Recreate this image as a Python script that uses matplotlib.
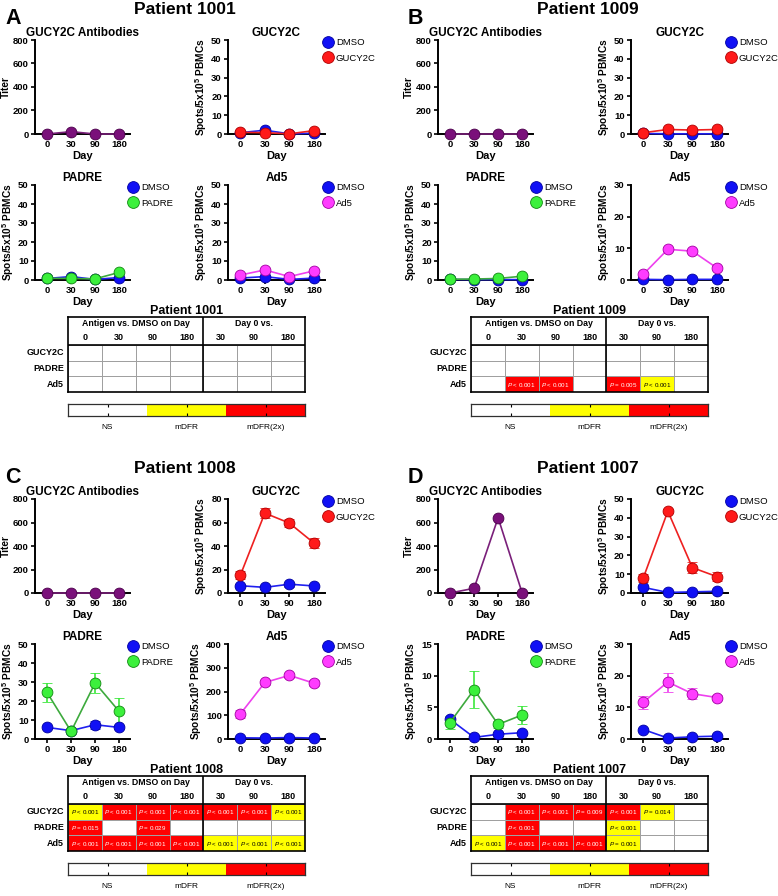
import numpy as np
import matplotlib.pyplot as plt
from matplotlib.lines import Line2D
from matplotlib.colors import ListedColormap

plt.rcParams['font.family'] = ['Liberation Sans', 'DejaVu Sans']
plt.rcParams['mathtext.fontset'] = 'custom'
plt.rcParams['mathtext.rm'] = 'Liberation Sans'
plt.rcParams['mathtext.it'] = 'Liberation Sans:italic'
plt.rcParams['mathtext.bf'] = 'Liberation Sans:bold'

# shared labels
days = ["0", "30", "90", "180"]
table_cols = ["0", "30", "90", "180", "30", "90", "180"]
table_rows = ["GUCY2C", "PADRE", "Ad5"]
levels = ["NS", "mDFR", "mDFR(2x)"]

# Patient 1001
p1001_titer = [0, 20, 0, 0]
p1001_gucy_dmso = [0.7, 2.0, 0.1, 0.4]
p1001_gucy_dmso_err = [0.3, 0.4, 0.1, 0.3]
p1001_gucy = [0.9, 0.7, 0.1, 1.8]
p1001_gucy_err = [0.3, 0.3, 0.1, 0.5]
p1001_padre_dmso = [0.8, 1.8, 0.3, 1.3]
p1001_padre_dmso_err = [0.3, 0.4, 0.2, 0.3]
p1001_padre = [0.9, 0.8, 0.6, 4.0]
p1001_padre_err = [0.3, 0.3, 0.3, 0.6]
p1001_ad5_dmso = [1.0, 1.8, 0.3, 1.0]
p1001_ad5_dmso_err = [0.3, 0.4, 0.2, 0.3]
p1001_ad5 = [2.6, 5.3, 1.8, 4.8]
p1001_ad5_err = [0.5, 0.6, 0.4, 0.6]
p1001_ymax = [800, 50, 50, 50]
p1001_ystep = [200, 10, 10, 10]
p1001_sig = [[0, 0, 0, 0, 0, 0, 0],
             [0, 0, 0, 0, 0, 0, 0],
             [0, 0, 0, 0, 0, 0, 0]]
p1001_p = [["", "", "", "", "", "", ""],
           ["", "", "", "", "", "", ""],
           ["", "", "", "", "", "", ""]]

# Patient 1009
p1009_titer = [0, 0, 0, 0]
p1009_gucy_dmso = [0.3, 0.1, 0.1, 0.1]
p1009_gucy_dmso_err = [0.2, 0.1, 0.1, 0.1]
p1009_gucy = [0.7, 2.4, 2.1, 2.4]
p1009_gucy_err = [0.3, 0.4, 0.4, 0.4]
p1009_padre_dmso = [0.3, 0.2, 0.2, 0.2]
p1009_padre_dmso_err = [0.2, 0.1, 0.1, 0.1]
p1009_padre = [0.4, 0.5, 0.8, 2.0]
p1009_padre_err = [0.2, 0.2, 0.3, 0.4]
p1009_ad5_dmso = [0.2, 0.1, 0.2, 0.2]
p1009_ad5_dmso_err = [0.1, 0.1, 0.1, 0.1]
p1009_ad5 = [1.8, 9.7, 9.1, 3.8]
p1009_ad5_err = [0.8, 0.6, 0.7, 0.7]
p1009_ymax = [800, 50, 50, 30]
p1009_ystep = [200, 10, 10, 10]
p1009_sig = [[0, 0, 0, 0, 0, 0, 0],
             [0, 0, 0, 0, 0, 0, 0],
             [0, 2, 2, 0, 2, 1, 0]]
p1009_p = [["", "", "", "", "", "", ""],
           ["", "", "", "", "", "", ""],
           ["", "< 0.001", "< 0.001", "", "= 0.005", "< 0.001", ""]]

# Patient 1008
p1008_titer = [0, 0, 0, 0]
p1008_gucy_dmso = [6.2, 4.8, 7.5, 6.0]
p1008_gucy_dmso_err = [1.2, 1.0, 2.0, 1.2]
p1008_gucy = [15.0, 68.0, 59.5, 42.5]
p1008_gucy_err = [3.5, 4.0, 3.5, 4.0]
p1008_padre_dmso = [6.1, 4.4, 7.5, 6.1]
p1008_padre_dmso_err = [1.0, 0.8, 2.2, 1.0]
p1008_padre = [24.5, 4.0, 29.5, 14.5]
p1008_padre_err = [5.2, 1.0, 5.3, 7.3]
p1008_ad5_dmso = [5, 4, 6, 4]
p1008_ad5_dmso_err = [2, 2, 2, 2]
p1008_ad5 = [105, 238, 268, 235]
p1008_ad5_err = [17, 10, 10, 12]
p1008_ymax = [800, 80, 50, 400]
p1008_ystep = [200, 20, 10, 100]
p1008_sig = [[1, 2, 2, 2, 2, 2, 1],
             [2, 0, 2, 0, 0, 0, 0],
             [2, 2, 2, 2, 1, 1, 1]]
p1008_p = [["< 0.001"] * 7,
           ["= 0.015", "", "= 0.029", "", "", "", ""],
           ["< 0.001"] * 7]

# Patient 1007
p1007_titer = [0, 40, 640, 0]
p1007_gucy_dmso = [3.0, 0.3, 0.6, 0.9]
p1007_gucy_dmso_err = [0.5, 0.3, 0.3, 0.3]
p1007_gucy = [8.0, 43.5, 13.5, 8.7]
p1007_gucy_err = [2.0, 1.2, 2.8, 2.5]
p1007_padre_dmso = [3.1, 0.25, 0.75, 1.0]
p1007_padre_dmso_err = [0.4, 0.2, 0.3, 0.3]
p1007_padre = [2.6, 7.8, 2.3, 3.8]
p1007_padre_err = [1.0, 2.9, 0.6, 1.4]
p1007_ad5_dmso = [3.0, 0.3, 0.7, 0.9]
p1007_ad5_dmso_err = [0.4, 0.2, 0.3, 0.3]
p1007_ad5 = [11.6, 18.0, 14.3, 13.1]
p1007_ad5_err = [2.1, 3.0, 1.7, 0.8]
p1007_ymax = [800, 50, 15, 30]
p1007_ystep = [200, 10, 5, 10]
p1007_sig = [[0, 2, 2, 2, 2, 1, 0],
             [0, 2, 0, 0, 1, 0, 0],
             [1, 2, 2, 2, 1, 0, 0]]
p1007_p = [["", "< 0.001", "< 0.001", "= 0.009", "< 0.001", "= 0.014", ""],
           ["", "< 0.001", "", "", "< 0.001", "", ""],
           ["< 0.001", "< 0.001", "< 0.001", "< 0.001", "= 0.001", "", ""]]

# colours: (face, edge, line, errorbar)
DMSO_C = ('#1010F5', '#0000A0', '#2020F0', '#2020F0')
GUCY_C = ('#FF1A1A', '#B00000', '#EE2020', '#EE2020')
PADRE_C = ('#3CF03C', '#118811', '#3DAA3D', '#3CE83C')
AD5_C = ('#FF3CFF', '#A000A0', '#EE40EE', '#EE40EE')
TITER_C = ('#7A107A', '#4A004A', '#7A207A', '#7A207A')
sig_cmap = ListedColormap(['white', '#FFFF00', '#FF0000'])

W, H = 778, 896
fig = plt.figure(figsize=(W / 100, H / 100), dpi=100)


def add_ax(x, y, w, h):
    return fig.add_axes([x / W, 1 - (y + h) / H, w / W, h / H])


def style(ax, ymax, ystep, title, ylabel):
    ax.set_xlim(-0.5, 3.45)
    ax.set_ylim(0, ymax)
    ax.set_xticks(range(4))
    ax.set_xticklabels(days)
    ax.set_yticks(np.arange(0, ymax + ystep / 2, ystep))
    for s in ['top', 'right']:
        ax.spines[s].set_visible(False)
    for s in ['left', 'bottom']:
        ax.spines[s].set_linewidth(1.4)
    ax.tick_params(width=1.2, length=3, labelsize=6.8, pad=1.5)
    for lab in ax.get_xticklabels() + ax.get_yticklabels():
        lab.set_fontweight('bold')
    ax.set_title(title, fontsize=8.5, fontweight='bold', pad=3)
    ax.set_xlabel('Day', fontsize=8, fontweight='bold', labelpad=1)
    ax.set_ylabel(ylabel, fontsize=7.3, fontweight='bold', labelpad=1.5)
    ax.patch.set_alpha(0)


def series(ax, vals, errs, col, label):
    ax.errorbar(range(4), vals, yerr=errs, color=col[2], ecolor=col[3], lw=1.2,
                marker='o', ms=7.8, mfc=col[0], mec=col[1], mew=0.6,
                capsize=3.5, elinewidth=1.2, capthick=1.2, clip_on=False,
                zorder=3, label=label)


def legend(ax, names, cols):
    handles = [Line2D([], [], ls='none', marker='o', ms=8.5, mfc=c[0], mec=c[1], mew=0.6)
               for c in cols]
    ax.legend(handles, names, loc='upper left', bbox_to_anchor=(0.99, 1.02),
              frameon=False, fontsize=6.8, handlelength=0.9, handletextpad=0.35,
              borderaxespad=0, borderpad=0, labelspacing=0.7)


SPOTS = r'Spots/5x10$^\mathbf{5}$ PBMCs'


def panel(ox, oy, letter, pid, titer, gd, gde, g, ge, pd_, pde, p, pe,
          ad, ade, a, ae, ymax, ystep, sig, ptxt):
    fig.text((ox + 5) / W, 1 - (oy + 18) / H, letter, fontsize=15.5,
             fontweight='bold', va='center', ha='left')
    fig.text((ox + 185) / W, 1 - (oy + 9) / H, 'Patient %s' % pid,
             fontsize=12.5, fontweight='bold', va='center', ha='center')

    ax = add_ax(ox + 35, oy + 40, 95, 94)
    series(ax, titer, None, TITER_C, None)
    style(ax, ymax[0], ystep[0], 'GUCY2C Antibodies', 'Titer')

    ax = add_ax(ox + 228, oy + 40, 97, 94)
    series(ax, gd, gde, DMSO_C, 'DMSO')
    series(ax, g, ge, GUCY_C, 'GUCY2C')
    style(ax, ymax[1], ystep[1], 'GUCY2C', SPOTS)
    legend(ax, ['DMSO', 'GUCY2C'], [DMSO_C, GUCY_C])

    ax = add_ax(ox + 35, oy + 185, 95, 95)
    series(ax, pd_, pde, DMSO_C, 'DMSO')
    series(ax, p, pe, PADRE_C, 'PADRE')
    style(ax, ymax[2], ystep[2], 'PADRE', SPOTS)
    legend(ax, ['DMSO', 'PADRE'], [DMSO_C, PADRE_C])

    ax = add_ax(ox + 228, oy + 185, 97, 95)
    series(ax, ad, ade, DMSO_C, 'DMSO')
    series(ax, a, ae, AD5_C, 'Ad5')
    style(ax, ymax[3], ystep[3], 'Ad5', SPOTS)
    legend(ax, ['DMSO', 'Ad5'], [DMSO_C, AD5_C])

    # significance table
    tb = add_ax(ox + 68, oy + 317, 237, 75)
    tb.pcolormesh(np.arange(8), np.arange(4), np.array(sig), cmap=sig_cmap,
                  vmin=-0.5, vmax=2.5, edgecolors='#A0A0A0', linewidth=0.5)
    tb.set_xlim(0, 7)
    tb.set_ylim(3, -1.8)
    tb.set_xticks([])
    tb.set_yticks([])
    for s in tb.spines.values():
        s.set_linewidth(1.2)
    tb.axhline(0, color='black', lw=1.2)
    tb.axvline(4, color='black', lw=1.2)
    tb.text(2, -1.38, 'Antigen vs. DMSO on Day', ha='center', va='center',
            fontsize=6.3, fontweight='bold')
    tb.text(5.5, -1.38, 'Day 0 vs.', ha='center', va='center',
            fontsize=6.3, fontweight='bold')
    for c, lab in enumerate(table_cols):
        tb.text(c + 0.5, -0.52, lab, ha='center', va='center',
                fontsize=6.5, fontweight='bold')
    for r, lab in enumerate(table_rows):
        tb.text(-0.12, r + 0.5, lab, ha='right', va='center',
                fontsize=6.5, fontweight='bold')
        for c in range(7):
            if ptxt[r][c]:
                tb.text(c + 0.5, r + 0.52, r'$\mathit{P}$ ' + ptxt[r][c],
                        ha='center', va='center', fontsize=4.5,
                        color='white' if sig[r][c] == 2 else 'black')
    tb.set_title('Patient %s' % pid, fontsize=9, fontweight='bold', pad=1)

    # colour key
    cb = add_ax(ox + 68, oy + 404, 237, 12)
    cb.pcolormesh(np.arange(4), [0, 1], [[0, 1, 2]], cmap=sig_cmap,
                  vmin=-0.5, vmax=2.5)
    cb.set_xlim(0, 3)
    cb.set_ylim(0, 1)
    cb.set_xticks([0.5, 1.5, 2.5])
    cb.set_xticklabels(levels)
    cb.set_yticks([])
    cb.tick_params(axis='x', direction='in', top=True, length=2.5, width=0.8,
                   labelsize=6, pad=6)
    for s in cb.spines.values():
        s.set_linewidth(0.9)
        s.set_color('#303030')


panel(0, 0, 'A', '1001', p1001_titer,
      p1001_gucy_dmso, p1001_gucy_dmso_err, p1001_gucy, p1001_gucy_err,
      p1001_padre_dmso, p1001_padre_dmso_err, p1001_padre, p1001_padre_err,
      p1001_ad5_dmso, p1001_ad5_dmso_err, p1001_ad5, p1001_ad5_err,
      p1001_ymax, p1001_ystep, p1001_sig, p1001_p)
panel(403, 0, 'B', '1009', p1009_titer,
      p1009_gucy_dmso, p1009_gucy_dmso_err, p1009_gucy, p1009_gucy_err,
      p1009_padre_dmso, p1009_padre_dmso_err, p1009_padre, p1009_padre_err,
      p1009_ad5_dmso, p1009_ad5_dmso_err, p1009_ad5, p1009_ad5_err,
      p1009_ymax, p1009_ystep, p1009_sig, p1009_p)
panel(0, 459, 'C', '1008', p1008_titer,
      p1008_gucy_dmso, p1008_gucy_dmso_err, p1008_gucy, p1008_gucy_err,
      p1008_padre_dmso, p1008_padre_dmso_err, p1008_padre, p1008_padre_err,
      p1008_ad5_dmso, p1008_ad5_dmso_err, p1008_ad5, p1008_ad5_err,
      p1008_ymax, p1008_ystep, p1008_sig, p1008_p)
panel(403, 459, 'D', '1007', p1007_titer,
      p1007_gucy_dmso, p1007_gucy_dmso_err, p1007_gucy, p1007_gucy_err,
      p1007_padre_dmso, p1007_padre_dmso_err, p1007_padre, p1007_padre_err,
      p1007_ad5_dmso, p1007_ad5_dmso_err, p1007_ad5, p1007_ad5_err,
      p1007_ymax, p1007_ystep, p1007_sig, p1007_p)

fig.savefig('out.png', dpi=100)
